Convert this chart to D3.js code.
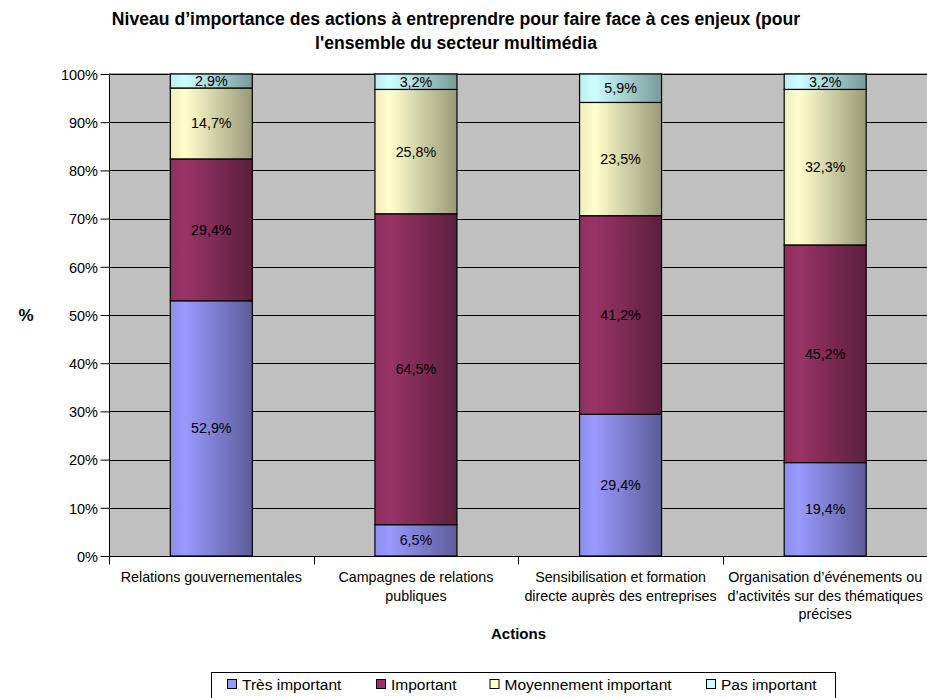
<!DOCTYPE html>
<html>
<head>
<meta charset="utf-8">
<script src="https://cdn.jsdelivr.net/npm/d3@7"></script>
<style>
  body { margin: 0; background: #fff; }
  svg { display: block; font-family: "Liberation Sans", Arial, sans-serif; }
</style>
</head>
<body>
<svg id="chart" width="927" height="698"></svg>
<script>
// Categories (x axis), wrapped lines for each label
const categories = [
  "Relations gouvernementales",
  "Campagnes de relations publiques",
  "Sensibilisation et formation directe auprès des entreprises",
  "Organisation d’événements ou d’activités sur des thématiques précises"
];
const categoryLines = [
  ["Relations gouvernementales"],
  ["Campagnes de relations", "publiques"],
  ["Sensibilisation et formation", "directe auprès des entreprises"],
  ["Organisation d’événements ou", "d’activités sur des thématiques", "précises"]
];

// Series, stacked bottom to top
const seriesNames = ["Très important", "Important", "Moyennement important", "Pas important"];
const tresImportant = [52.9, 6.5, 29.4, 19.4];
const important = [29.4, 64.5, 41.2, 45.2];
const moyennement = [14.7, 25.8, 23.5, 32.3];
const pasImportant = [2.9, 3.2, 5.9, 3.2];
const seriesValues = [tresImportant, important, moyennement, pasImportant];

const yTicks = [0, 10, 20, 30, 40, 50, 60, 70, 80, 90, 100];
const seriesColors = ["#9999FF", "#993366", "#FFFFCC", "#CCFFFF"];

const svg = d3.select("#chart");
const plot = { left: 109, right: 927.5, top: 74, bottom: 556 };

const x = d3.scaleBand().domain(categories).range([plot.left, plot.right]).paddingInner(0).paddingOuter(0);
const y = d3.scaleLinear().domain([0, 100]).range([plot.bottom, plot.top]);

// Horizontal shading gradients for the bars
const defs = svg.append("defs");
seriesColors.forEach((c, i) => {
  const base = d3.color(c);
  const g = defs.append("linearGradient").attr("id", "grad" + i)
    .attr("x1", "0%").attr("x2", "100%").attr("y1", "0%").attr("y2", "0%");
  const dark = d3.rgb(base.r * 0.6, base.g * 0.6, base.b * 0.6);
  const mid = d3.rgb(base.r * 0.93, base.g * 0.93, base.b * 0.93);
  g.append("stop").attr("offset", "0%").attr("stop-color", mid.formatHex());
  g.append("stop").attr("offset", "18%").attr("stop-color", base.formatHex());
  g.append("stop").attr("offset", "100%").attr("stop-color", dark.formatHex());
});

// Plot background
svg.append("rect").attr("x", plot.left).attr("y", plot.top)
  .attr("width", plot.right - plot.left).attr("height", plot.bottom - plot.top)
  .attr("fill", "#C0C0C0");
svg.append("line").attr("x1", plot.left).attr("x2", plot.right)
  .attr("y1", plot.top - 0.5).attr("y2", plot.top - 0.5)
  .attr("stroke", "#A0A0A0").attr("stroke-width", 1);

// Gridlines
svg.append("g").selectAll("line").data(yTicks.filter(d => d > 0)).join("line")
  .attr("x1", plot.left).attr("x2", plot.right)
  .attr("y1", d => Math.round(y(d)) + 0.5).attr("y2", d => Math.round(y(d)) + 0.5)
  .attr("stroke", "#000").attr("stroke-width", 1);

// Stack data (normalized to 100%)
const rows = categories.map((c, i) => {
  const r = { cat: c };
  const total = d3.sum(seriesValues, s => s[i]);
  seriesNames.forEach((n, k) => { r[n] = seriesValues[k][i] / total * 100; r["raw" + k] = seriesValues[k][i]; });
  return r;
});
const stacked = d3.stack().keys(seriesNames)(rows);

const barW = 82;
const bars = svg.append("g");
stacked.forEach((layer, k) => {
  const g = bars.append("g");
  g.selectAll("rect").data(layer).join("rect")
    .attr("x", d => x(d.data.cat) + x.bandwidth() / 2 - barW / 2)
    .attr("y", d => y(d[1]))
    .attr("width", barW)
    .attr("height", d => y(d[0]) - y(d[1]))
    .attr("fill", `url(#grad${k})`)
    .attr("stroke", "#000").attr("stroke-width", 1.2);
  g.selectAll("text").data(layer).join("text")
    .attr("x", d => x(d.data.cat) + x.bandwidth() / 2)
    .attr("y", d => (y(d[0]) + y(d[1])) / 2 + 5)
    .attr("text-anchor", "middle").attr("font-size", 14.3).attr("fill", "#000")
    .text(d => d.data["raw" + k].toFixed(1).replace(".", ",") + "%");
});

// Y axis
const yAxis = svg.append("g").attr("transform", `translate(${plot.left + 0.5},0)`)
  .call(d3.axisLeft(y).tickValues(yTicks).tickSize(9).tickFormat(d => d + "%"));
yAxis.select(".domain").attr("stroke", "#000").attr("d", `M0,${plot.top}V${plot.bottom}`);
yAxis.selectAll(".tick line").attr("stroke", "#000");
yAxis.selectAll(".tick text").attr("font-size", 14.5).attr("font-family", "Liberation Sans, Arial, sans-serif")
  .attr("fill", "#000").attr("x", -11.5).attr("dy", "0.36em");

// X axis
const xAxisY = plot.bottom + 0.5;
svg.append("line").attr("x1", plot.left).attr("x2", plot.right)
  .attr("y1", xAxisY).attr("y2", xAxisY).attr("stroke", "#000");
const bounds = categories.map(c => x(c));
svg.append("g").selectAll("line").data(bounds).join("line")
  .attr("x1", d => Math.round(d) + 0.5).attr("x2", d => Math.round(d) + 0.5)
  .attr("y1", xAxisY).attr("y2", xAxisY + 8).attr("stroke", "#000");

const catLabels = svg.append("g");
categories.forEach((c, i) => {
  const cx = x(c) + x.bandwidth() / 2;
  const t = catLabels.append("text")
    .attr("x", cx).attr("y", 582)
    .attr("text-anchor", "middle").attr("font-size", 14.3).attr("fill", "#000");
  categoryLines[i].forEach((line, j) => {
    t.append("tspan").attr("x", cx).attr("dy", j === 0 ? 0 : 18.5).text(line);
  });
});

// Titles
svg.append("text").attr("x", 456).attr("y", 25).attr("text-anchor", "middle")
  .attr("font-size", 17.6).attr("font-weight", "bold")
  .text("Niveau d’importance des actions à entreprendre pour faire face à ces enjeux (pour");
svg.append("text").attr("x", 456).attr("y", 49).attr("text-anchor", "middle")
  .attr("font-size", 17.6).attr("font-weight", "bold")
  .text("l'ensemble du secteur multimédia");
svg.append("text").attr("x", 26).attr("y", 321).attr("text-anchor", "middle")
  .attr("font-size", 17).attr("font-weight", "bold").text("%");
svg.append("text").attr("x", 518.5).attr("y", 639).attr("text-anchor", "middle")
  .attr("font-size", 15).attr("font-weight", "bold").text("Actions");

// Legend
const legend = svg.append("g");
legend.append("rect").attr("x", 211.5).attr("y", 672.5).attr("width", 624).attr("height", 30)
  .attr("fill", "#fff").attr("stroke", "#000").attr("stroke-width", 1);
const legendX = [227, 376, 489.5, 706];
seriesNames.forEach((n, i) => {
  legend.append("rect").attr("x", legendX[i] + 0.5).attr("y", 679.5).attr("width", 9).attr("height", 9)
    .attr("fill", seriesColors[i]).attr("stroke", "#000").attr("stroke-width", 1);
  legend.append("text").attr("x", legendX[i] + 15).attr("y", 689.5)
    .attr("font-size", 15.5).attr("fill", "#000").text(n);
});
</script>
</body>
</html>
